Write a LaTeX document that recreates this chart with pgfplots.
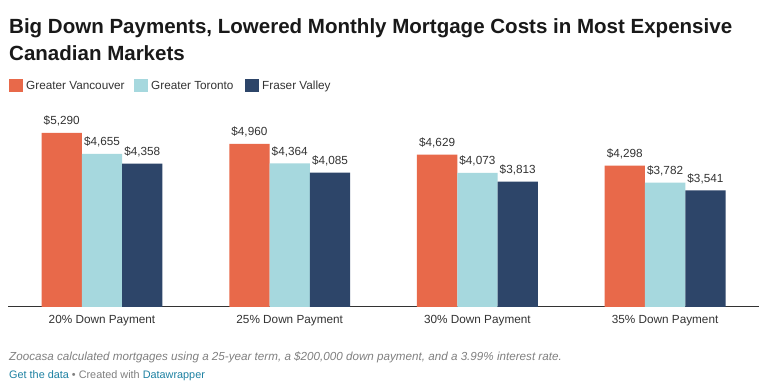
\documentclass[border=0pt]{standalone}
\usepackage{pgfplots}
\pgfplotsset{compat=1.18}
\usepackage{fontspec}
\setmainfont{Liberation Sans}
\definecolor{cOr}{HTML}{E8694A}
\definecolor{cLb}{HTML}{A6D8DE}
\definecolor{cNv}{HTML}{2D4569}
\definecolor{txt}{HTML}{333333}
\definecolor{gry}{HTML}{808080}
\definecolor{lnk}{HTML}{1D81A2}
\begin{document}
\begin{tikzpicture}
\path[use as bounding box, fill=white] (0,0) rectangle (765bp,387bp);
\node[anchor=base west, inner sep=0, font=\bfseries\fontsize{20.6}{26}\selectfont, text=black!90] at (9bp,353bp) {Big Down Payments, Lowered Monthly Mortgage Costs in Most Expensive};
\node[anchor=base west, inner sep=0, font=\bfseries\fontsize{20.6}{26}\selectfont, text=black!90] at (9bp,326bp) {Canadian Markets};
% legend
\fill[cOr] (9bp,295bp) rectangle (23bp,308bp);
\node[anchor=base west, inner sep=0, font=\fontsize{11.8}{14}\selectfont, text=txt] at (26bp,297bp) {Greater Vancouver};
\fill[cLb] (134bp,295bp) rectangle (148bp,308bp);
\node[anchor=base west, inner sep=0, font=\fontsize{11.8}{14}\selectfont, text=txt] at (151bp,297bp) {Greater Toronto};
\fill[cNv] (245bp,295bp) rectangle (259bp,308bp);
\node[anchor=base west, inner sep=0, font=\fontsize{11.8}{14}\selectfont, text=txt] at (262bp,297bp) {Fraser Valley};
\begin{axis}[
  at={(8.15bp,80bp)}, anchor=south west,
  scale only axis, width=750.8bp, height=200bp,
  xmin=-0.5, xmax=3.5, ymin=0, ymax=6079,
  axis y line=none, axis x line*=bottom,
  x axis line style={draw=txt, line width=1bp, -},
  xtick={0,1,2,3},
  xticklabels={20\% Down Payment,25\% Down Payment,30\% Down Payment,35\% Down Payment},
  xticklabel style={anchor=base, text depth=0pt, inner sep=0pt, yshift=-17bp, font=\fontsize{11.8}{14}\selectfont, text=txt},
  major tick length=0pt,
  ybar, bar width=0.2147,
  nodes near coords={\$\pgfmathprintnumber{\pgfplotspointmeta}},
  every node near coord/.append style={inner sep=0pt, text depth=0pt, yshift=8bp, font=\fontsize{11.8}{14}\selectfont, text=txt},
  /pgf/number format/.cd, fixed, precision=0, 1000 sep={,}, assume math mode=true, /pgfplots/.cd,
]
\addplot[fill=cOr, draw=none, bar shift=-0.2147] coordinates {(0,5290) (1,4960) (2,4629) (3,4298)};
\addplot[fill=cLb, draw=none, bar shift=0] coordinates {(0,4655) (1,4364) (2,4073) (3,3782)};
\addplot[fill=cNv, draw=none, bar shift=0.2147] coordinates {(0,4358) (1,4085) (2,3813) (3,3541)};
\end{axis}
\node[anchor=base west, inner sep=0, font=\itshape\fontsize{11.7}{13}\selectfont, text=gry] at (9bp,27bp) {Zoocasa calculated mortgages using a 25-year term, a \$200,000 down payment, and a 3.99\% interest rate.};
\node[anchor=base west, inner sep=0, font=\fontsize{10.9}{12}\selectfont, text=gry] at (9bp,9bp) {\textcolor{lnk}{Get the data} • Created with \textcolor{lnk}{Datawrapper}};
\end{tikzpicture}
\end{document}
